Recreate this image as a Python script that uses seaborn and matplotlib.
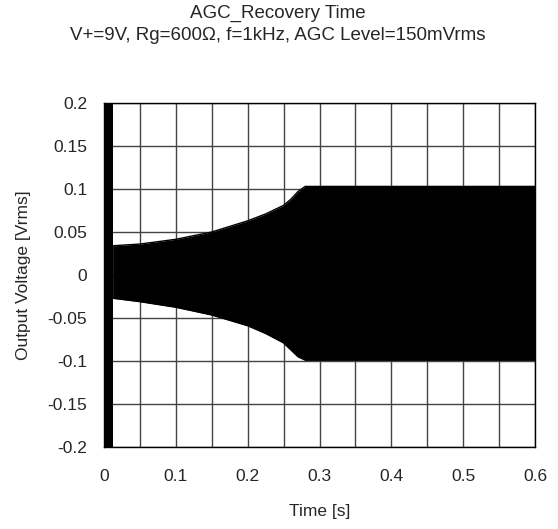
import numpy as np
import pandas as pd
import matplotlib
matplotlib.use("Agg")
import matplotlib.pyplot as plt
import seaborn as sns

# envelope of the 1 kHz output
time_s = [0.012, 0.05, 0.10, 0.15, 0.20, 0.225, 0.25, 0.26, 0.27, 0.28, 0.30, 0.40, 0.50, 0.60]
upper_v = [0.034, 0.036, 0.0415, 0.050, 0.063, 0.071, 0.081, 0.088, 0.097, 0.103, 0.103, 0.103, 0.103, 0.103]
lower_v = [-0.027, -0.031, -0.0375, -0.0465, -0.059, -0.068, -0.079, -0.087, -0.095, -0.099, -0.099, -0.099, -0.099, -0.099]

# start-up burst that hits the full scale
burst_t = [0.0, 0.012]
burst_hi = [0.2, 0.2]
burst_lo = [-0.2, -0.2]

x_ticks = [0, 0.1, 0.2, 0.3, 0.4, 0.5, 0.6]
y_ticks = [-0.2, -0.15, -0.1, -0.05, 0, 0.05, 0.1, 0.15, 0.2]

sns.set_style("white")
plt.rcParams["font.family"] = ["Liberation Sans", "DejaVu Sans"]

env = pd.DataFrame({"t": time_s, "upper": upper_v, "lower": lower_v})

fig = plt.figure(figsize=(5.58, 5.29), dpi=100)
ax = fig.add_axes([104 / 558, 1 - 447 / 529, 431 / 558, 344 / 529])

sns.lineplot(data=env, x="t", y="upper", color="black", lw=1, ax=ax)
sns.lineplot(data=env, x="t", y="lower", color="black", lw=1, ax=ax)
ax.fill_between(env["t"], env["lower"], env["upper"], color="black", lw=0)
ax.fill_between(burst_t, burst_lo, burst_hi, color="black", lw=0)

ax.set_xlim(0, 0.6)
ax.set_ylim(-0.2, 0.2)
ax.set_xticks(np.arange(0, 0.6001, 0.05), minor=True)
ax.set_xticks(x_ticks)
ax.set_xticklabels([f"{v:g}" for v in x_ticks])
ax.set_yticks(y_ticks)
ax.set_yticklabels([f"{v:g}" for v in y_ticks])
ax.grid(True, which="both", color="#444444", lw=1)
ax.set_axisbelow(True)
ax.tick_params(axis="both", which="both", length=0, labelsize=12.5)
ax.tick_params(axis="x", pad=16)
ax.tick_params(axis="y", pad=12)
for s in ax.spines.values():
    s.set_color("black")
    s.set_linewidth(1)

ax.set_xlabel("Time [s]", fontsize=12.5, labelpad=14)
ax.set_ylabel("Output Voltage [Vrms]", fontsize=12.5, labelpad=12)

fig.text(0.497, 1 - 13 / 529, "AGC_Recovery Time", ha="center", va="center", fontsize=13.5)
fig.text(0.497, 1 - 35 / 529, "V+=9V, Rg=600Ω, f=1kHz, AGC Level=150mVrms",
         ha="center", va="center", fontsize=13.5)

fig.savefig("out.png", dpi=100)
